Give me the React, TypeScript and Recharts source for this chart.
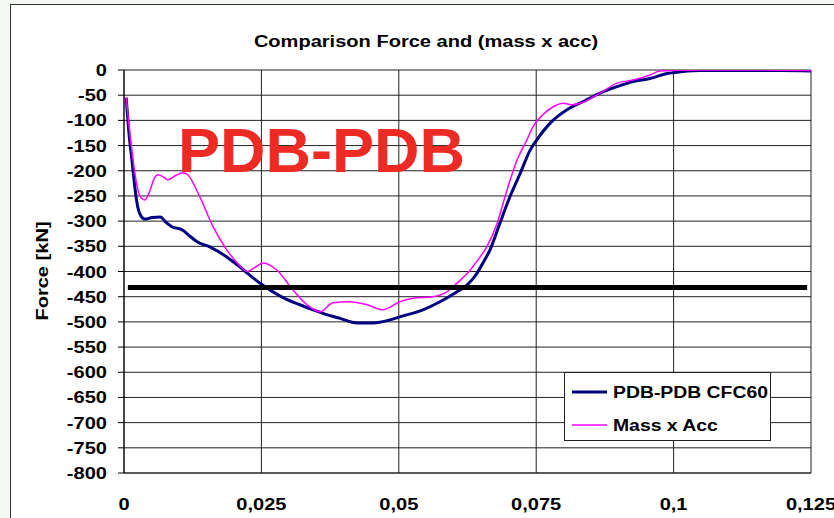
import React from 'react';
import { LineChart, Line, XAxis, YAxis, CartesianGrid } from 'recharts';

const FONT = '"Liberation Sans", Arial, Helvetica, sans-serif';
const SX = 1.18;
const SX_LEGEND = 1.14;
const FS = 17;

const xTicks = [0, 0.025, 0.05, 0.075, 0.1, 0.125];
const yTicks = [0, -50, -100, -150, -200, -250, -300, -350, -400, -450, -500, -550, -600, -650, -700, -750, -800];

const blueTime = [0.0004, 0.0009, 0.0015, 0.002, 0.0025, 0.0031, 0.0038, 0.0051, 0.0066, 0.0076, 0.0087, 0.0107, 0.012, 0.0133, 0.0156, 0.0187, 0.0211, 0.0247, 0.0297, 0.032, 0.0344, 0.0362, 0.0393, 0.0424, 0.0453, 0.0484, 0.0502, 0.0544, 0.0575, 0.0606, 0.0624, 0.0642, 0.0653, 0.0666, 0.0684, 0.0702, 0.0721, 0.0739, 0.0751, 0.0775, 0.0806, 0.0835, 0.0866, 0.0897, 0.0926, 0.0957, 0.0988, 0.1017, 0.1048, 0.1139, 0.1194, 0.125];
const blueForce = [-55, -125, -185, -235, -272, -290, -296, -293, -292, -302, -311, -318, -330, -341, -351, -371, -391, -423, -456, -466, -476, -483, -493, -502, -502, -496, -490, -476, -460, -440, -427, -404, -383, -357, -304, -252, -205, -159, -139, -106, -79, -63, -46, -33, -23, -17, -7, -3, -1, -1, -1, -2];

const massTime = [0.0004, 0.0009, 0.0015, 0.0022, 0.0029, 0.0038, 0.0047, 0.0055, 0.0062, 0.0071, 0.008, 0.0093, 0.0107, 0.0116, 0.0138, 0.0162, 0.0187, 0.0206, 0.0224, 0.0238, 0.0253, 0.0278, 0.0307, 0.0333, 0.0357, 0.038, 0.0411, 0.0442, 0.0471, 0.0502, 0.0526, 0.0562, 0.0588, 0.0606, 0.063, 0.0644, 0.066, 0.0679, 0.0697, 0.0715, 0.0733, 0.0744, 0.0762, 0.0781, 0.0799, 0.0815, 0.083, 0.0866, 0.0897, 0.0926, 0.0957, 0.0975, 0.1048, 0.1139, 0.125];
const massForce = [-55, -110, -165, -220, -250, -258, -240, -215, -208, -212, -218, -210, -204, -208, -252, -311, -357, -383, -400, -392, -383, -397, -436, -466, -480, -462, -460, -466, -476, -460, -453, -450, -440, -423, -397, -377, -351, -304, -238, -179, -139, -113, -89, -73, -66, -69, -66, -46, -26, -20, -10, -2, 0, 0, -1];

const thresholdTime = [0.0007, 0.1243];
const thresholdForce = [-432, -432];

const blueData = blueTime.map((t, i) => ({ t, f: blueForce[i] }));
const massData = massTime.map((t, i) => ({ t, f: massForce[i] }));
const thresholdData = thresholdTime.map((t, i) => ({ t, f: thresholdForce[i] }));

const fmtX = (v: number) => (v === 0 ? '0' : String(v).replace('.', ','));

const stretch = (x: number, y: number, s: number = SX) => `translate(${x} ${y}) scale(${s} 1) translate(${-x} ${-y})`;

function YTick(props: any) {
  const { x, y, payload } = props;
  return (
    <text x={x} y={y} dy="0.355em" textAnchor="end" fontFamily={FONT} fontSize={FS} fontWeight="bold" fill="#000" transform={stretch(x, y)}>
      {payload.value}
    </text>
  );
}

function XTick(props: any) {
  const { x, y, payload } = props;
  return (
    <text x={x} y={y} dy="0.71em" textAnchor="middle" fontFamily={FONT} fontSize={FS} fontWeight="bold" fill="#000" transform={stretch(x, y)}>
      {fmtX(payload.value)}
    </text>
  );
}

export default function App() {
  return (
    <div style={{ position: 'absolute', left: 0, top: 0, width: 834, height: 518, background: '#f3f8f2', overflow: 'hidden' }}>
      <div style={{ position: 'absolute', left: 10, top: 4, width: 840, height: 530, background: '#fff', border: '1px solid #333' }} />
      <div style={{ position: 'absolute', left: 0, top: 0 }}>
        <LineChart width={834} height={518} margin={{ top: 70, right: 23, bottom: 0, left: 0 }}>
          <CartesianGrid stroke="#222" strokeWidth={1} />
          <XAxis
            type="number"
            dataKey="t"
            domain={[0, 0.125]}
            ticks={xTicks}
            allowDataOverflow
            height={45}
            tickLine={false}
            tickSize={0}
            tickMargin={25}
            axisLine={{ stroke: '#222' }}
            tick={<XTick />}
            interval={0}
          />
          <YAxis
            type="number"
            dataKey="f"
            domain={[-800, 0]}
            ticks={yTicks}
            allowDataOverflow
            width={124}
            tickSize={6}
            tickMargin={11}
            tickLine={{ stroke: '#000' }}
            axisLine={{ stroke: '#000' }}
            tick={<YTick />}
            interval={0}
          />
          <Line data={blueData} dataKey="f" type="monotone" stroke="#000080" strokeWidth={3} dot={false} isAnimationActive={false} />
          <Line data={massData} dataKey="f" type="monotone" stroke="#ff00ff" strokeWidth={1.5} dot={false} isAnimationActive={false} />
          <Line data={thresholdData} dataKey="f" type="linear" stroke="#000" strokeWidth={5} dot={false} isAnimationActive={false} />
        </LineChart>
      </div>
      <svg width={834} height={518} style={{ position: 'absolute', left: 0, top: 0, pointerEvents: 'none' }}>
        <text x={426} y={47} textAnchor="middle" fontFamily={FONT} fontSize={FS} fontWeight="bold" fill="#000" transform={stretch(426, 47)}>
          Comparison Force and (mass x acc)
        </text>
        <text transform={`translate(42 271) rotate(-90) scale(${SX} 1)`} textAnchor="middle" dy="0.355em" fontFamily={FONT} fontSize={FS} fontWeight="bold" fill="#000">
          Force [kN]
        </text>
        <text x={178} y={172} fontFamily={FONT} fontSize={63} fontWeight="bold" fill="#ee2a24">
          PDB-PDB
        </text>
        <rect x={564.5} y={372.5} width={206} height={68} fill="#fff" stroke="#222" strokeWidth={1} />
        <line x1={572} x2={607} y1={392} y2={392} stroke="#000080" strokeWidth={3} />
        <text x={613} y={392} dy="0.355em" fontFamily={FONT} fontSize={FS} fontWeight="bold" fill="#000" transform={stretch(613, 392, SX_LEGEND)}>
          PDB-PDB CFC60
        </text>
        <line x1={572} x2={607} y1={425} y2={425} stroke="#ff00ff" strokeWidth={1.5} />
        <text x={613} y={425} dy="0.355em" fontFamily={FONT} fontSize={FS} fontWeight="bold" fill="#000" transform={stretch(613, 425, SX_LEGEND)}>
          Mass x Acc
        </text>
      </svg>
    </div>
  );
}
